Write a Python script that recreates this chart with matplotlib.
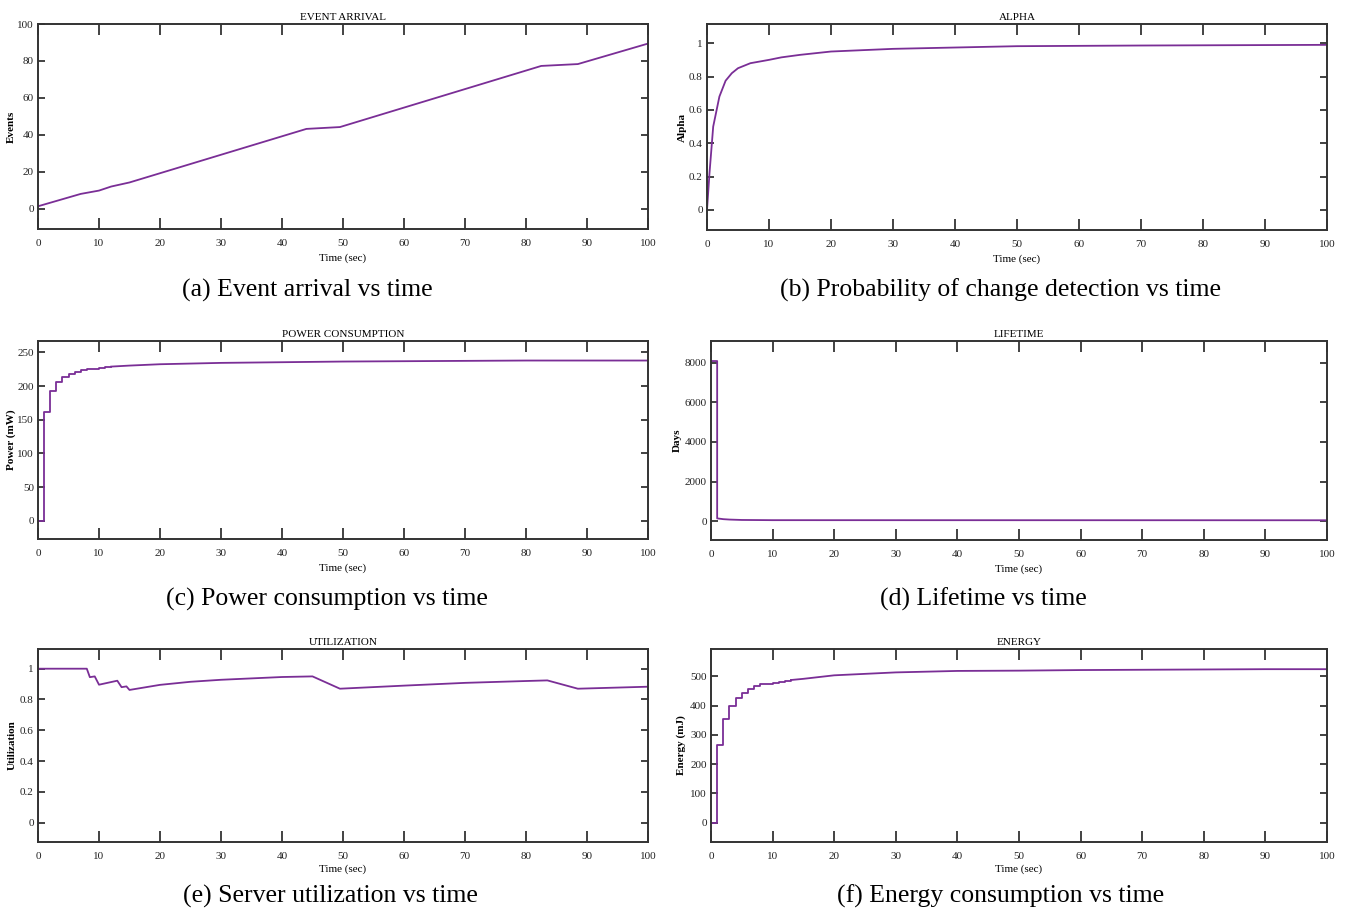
import numpy as np
import matplotlib
matplotlib.use("Agg")
import matplotlib.pyplot as plt

plt.rcParams['font.family'] = ['Liberation Serif', 'DejaVu Serif']

# (a) event arrival
t_event = [0, 7, 10, 12, 15, 40, 44, 49.5, 82.5, 88.5, 100]
events = [1.3, 8, 9.8, 12, 14.2, 39.2, 43.2, 44.2, 77.3, 78.3, 89.4]

# (b) alpha
t_alpha = [0, 0.4, 1, 2, 3, 4, 5, 7, 10, 12, 15, 20, 30, 50, 70, 100]
alpha = [0, 0.22, 0.5, 0.68, 0.775, 0.82, 0.85, 0.88, 0.9, 0.915, 0.93, 0.95,
         0.966, 0.982, 0.986, 0.99]

# (c) power consumption (stepwise at start, then smooth)
t_power = [0, 1, 2, 3, 4, 5, 6, 7, 8, 9, 10, 11, 12, 15, 20, 30, 40, 50, 60,
           70, 80, 90, 100]
power = [0, 162, 193, 206, 213, 218, 221, 223.5, 225, 226, 227, 228, 229,
         230.5, 232.5, 234.5, 235.5, 236.5, 237, 237.5, 238, 238, 238]
power_nstep = 12

# (d) lifetime
t_life = [0, 1, 1, 2, 3, 5, 10, 100]
lifetime = [8080, 8080, 150, 110, 90, 70, 60, 55]

# (e) server utilization
t_util = [0, 0, 8, 8.5, 9.3, 10, 13, 13.7, 14.5, 15, 20, 25, 30, 40, 45,
          49.5, 60, 70, 80, 83.5, 88.5, 100]
util = [0, 1, 1, 0.945, 0.95, 0.896, 0.922, 0.88, 0.885, 0.862, 0.895, 0.915,
        0.928, 0.946, 0.95, 0.87, 0.89, 0.908, 0.92, 0.924, 0.87, 0.883]

# (f) energy (stepwise at start, then smooth)
t_energy = [0, 1, 2, 3, 4, 5, 6, 7, 8, 9, 10, 11, 12, 13, 15, 20, 30, 40,
            50, 60, 70, 80, 90, 100]
energy = [0, 265, 354, 398, 426, 443, 456, 466, 473, 474, 478, 481, 485, 488,
          492, 504, 514, 519, 520, 522, 523, 524, 525, 525]
energy_nstep = 13

x_ticks = list(range(0, 101, 10))

col = '#7a2e96'

fig = plt.figure(figsize=(13.5, 9.1), dpi=100)
W, H = 1350, 910


def make_ax(l, r, t, b):
    return fig.add_axes([l / W, 1 - b / H, (r - l) / W, (b - t) / H])


def style(ax, title, ylabel, ylim, yticks, ylab_x, xlab_pad):
    ax.set_xlim(0, 100)
    ax.set_ylim(*ylim)
    ax.set_xticks(x_ticks)
    ax.set_yticks(yticks)
    ax.tick_params(direction='in', top=True, right=True, labelsize=8,
                   colors='#222222', width=1.2)
    ax.tick_params(axis='x', length=8, pad=7)
    ax.tick_params(axis='y', length=5, pad=3)
    for s in ax.spines.values():
        s.set_linewidth(1.4)
        s.set_color('#333333')
    ax.set_title(title, fontsize=8, pad=3)
    ax.set_xlabel('Time (sec)', fontsize=8, labelpad=xlab_pad)
    ax.set_ylabel(ylabel, fontsize=8, fontweight='bold')
    ax.yaxis.set_label_coords(ylab_x, 0.5)


def step_then_line(ax, t, y, n):
    ax.plot(t[:n + 1], y[:n + 1], color=col, lw=1.3, drawstyle='steps-post')
    ax.plot(t[n:], y[n:], color=col, lw=1.3)


ax1 = make_ax(38, 648, 24, 229)
ax1.plot(t_event, events, color=col, lw=1.3)
style(ax1, 'EVENT ARRIVAL', 'Events', (-11, 100), [0, 20, 40, 60, 80, 100], -0.036, 4)

ax2 = make_ax(707, 1327, 24, 230)
ax2.plot(t_alpha, alpha, color=col, lw=1.3)
style(ax2, 'ALPHA', 'Alpha', (-0.12, 1.115), [0, 0.2, 0.4, 0.6, 0.8, 1],
      -0.032, 4)
ax2.set_yticklabels(['0', '0.2', '0.4', '0.6', '0.8', '1'])

ax3 = make_ax(38, 648, 341, 539)
step_then_line(ax3, t_power, power, power_nstep)
style(ax3, 'POWER CONSUMPTION', 'Power (mW)', (-27, 267),
      [0, 50, 100, 150, 200, 250], -0.036, 4)

ax4 = make_ax(711, 1327, 341, 540)
ax4.plot(t_life, lifetime, color=col, lw=1.3)
style(ax4, 'LIFETIME', 'Days', (-940, 9090), [0, 2000, 4000, 6000, 8000],
      -0.047, 4)

ax5 = make_ax(38, 648, 649, 842)
ax5.plot(t_util, util, color=col, lw=1.3)
style(ax5, 'UTILIZATION', 'Utilization', (-0.126, 1.128),
      [0, 0.2, 0.4, 0.6, 0.8, 1], -0.035, 3)
ax5.set_yticklabels(['0', '0.2', '0.4', '0.6', '0.8', '1'])

ax6 = make_ax(711, 1327, 649, 842)
step_then_line(ax6, t_energy, energy, energy_nstep)
style(ax6, 'ENERGY', 'Energy (mJ)', (-66, 594),
      [0, 100, 200, 300, 400, 500], -0.041, 3)

captions = [
    ('(a) Event arrival vs time', 307, 290),
    ('(b) Probability of change detection vs time', 1000, 290),
    ('(c) Power consumption vs time', 327, 599),
    ('(d) Lifetime vs time', 983, 599),
    ('(e) Server utilization vs time', 330, 896),
    ('(f) Energy consumption vs time', 1001, 896),
]
for txt, cx, cy in captions:
    fig.text(cx / W, 1 - cy / H, txt, ha='center', va='center', fontsize=18.5)

fig.savefig('out.png', dpi=100)
